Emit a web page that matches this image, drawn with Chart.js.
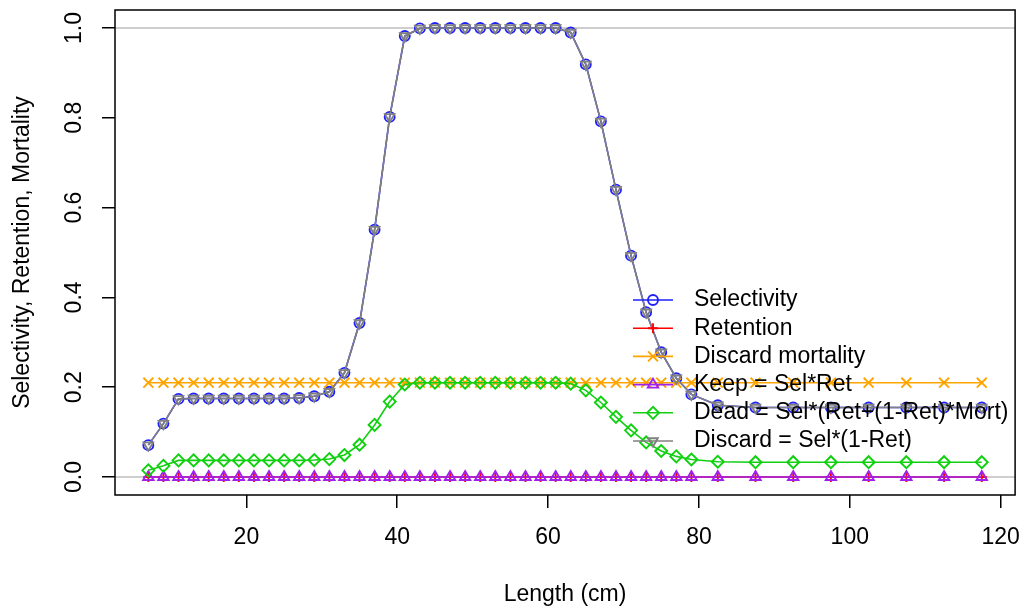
<!DOCTYPE html>
<html>
<head>
<meta charset="utf-8">
<script src="https://cdn.jsdelivr.net/npm/chart.js@4.4.1/dist/chart.umd.min.js"></script>
<style>
  html, body { margin: 0; padding: 0; background: #fff; }
  #wrap { width: 1024px; height: 609px; }
</style>
</head>
<body>
<div id="wrap"><canvas id="selChart" width="1024" height="609"></canvas></div>
<script>
// length classes (cm)
const lengths = [7, 9, 11, 13, 15, 17, 19, 21, 23, 25, 27, 29, 31, 33, 35, 37, 39, 41, 43,
  45, 47, 49, 51, 53, 55, 57, 59, 61, 63, 65, 67, 69, 71, 73, 75, 77, 79,
  82.5, 87.5, 92.5, 97.5, 102.5, 107.5, 112.5, 117.5];

const selectivity = [0.071, 0.119, 0.174, 0.175, 0.175, 0.175, 0.175, 0.175, 0.175, 0.175, 0.176, 0.180, 0.190, 0.232, 0.343, 0.551, 0.802, 0.982, 0.999,
  1, 1, 1, 1, 1, 1, 1, 1, 1, 0.990, 0.919, 0.792, 0.640, 0.493, 0.367, 0.278, 0.220, 0.184,
  0.160, 0.155, 0.155, 0.155, 0.155, 0.155, 0.155, 0.155];

const retention = [0, 0, 0, 0, 0, 0, 0, 0, 0, 0, 0, 0, 0, 0, 0, 0, 0, 0, 0,
  0, 0, 0, 0, 0, 0, 0, 0, 0, 0, 0, 0, 0, 0, 0, 0, 0, 0,
  0, 0, 0, 0, 0, 0, 0, 0];

const discardMortality = [0.21, 0.21, 0.21, 0.21, 0.21, 0.21, 0.21, 0.21, 0.21, 0.21, 0.21, 0.21, 0.21, 0.21, 0.21, 0.21, 0.21, 0.21, 0.21,
  0.21, 0.21, 0.21, 0.21, 0.21, 0.21, 0.21, 0.21, 0.21, 0.21, 0.21, 0.21, 0.21, 0.21, 0.21, 0.21, 0.21, 0.21,
  0.21, 0.21, 0.21, 0.21, 0.21, 0.21, 0.21, 0.21];

const keep = [0, 0, 0, 0, 0, 0, 0, 0, 0, 0, 0, 0, 0, 0, 0, 0, 0, 0, 0,
  0, 0, 0, 0, 0, 0, 0, 0, 0, 0, 0, 0, 0, 0, 0, 0, 0, 0,
  0, 0, 0, 0, 0, 0, 0, 0];

const dead = [0.015, 0.025, 0.037, 0.037, 0.037, 0.037, 0.037, 0.037, 0.037, 0.037, 0.037, 0.038, 0.040, 0.049, 0.072, 0.116, 0.168, 0.206, 0.210,
  0.210, 0.210, 0.210, 0.210, 0.210, 0.210, 0.210, 0.210, 0.210, 0.208, 0.193, 0.166, 0.134, 0.104, 0.077, 0.058, 0.046, 0.039,
  0.034, 0.033, 0.033, 0.033, 0.033, 0.033, 0.033, 0.033];

const discard = [0.071, 0.119, 0.174, 0.175, 0.175, 0.175, 0.175, 0.175, 0.175, 0.175, 0.176, 0.180, 0.190, 0.232, 0.343, 0.551, 0.802, 0.982, 0.999,
  1, 1, 1, 1, 1, 1, 1, 1, 1, 0.990, 0.919, 0.792, 0.640, 0.493, 0.367, 0.278, 0.220, 0.184,
  0.160, 0.155, 0.155, 0.155, 0.155, 0.155, 0.155, 0.155];

const seriesLabels = ['Selectivity', 'Retention', 'Discard mortality', 'Keep = Sel*Ret',
  'Dead = Sel*(Ret+(1-Ret)*Mort)', 'Discard = Sel*(1-Ret)'];

const xTicks = [20, 40, 60, 80, 100, 120];
const yTicks = [0, 0.2, 0.4, 0.6, 0.8, 1.0];
const yTickLabels = ['0.0', '0.2', '0.4', '0.6', '0.8', '1.0'];
const refLines = [0, 1];

const FONT = '"Liberation Sans", Arial, Helvetica, sans-serif';
const FONT_SIZE = 23;

const toPoints = vals => vals.map((v, i) => ({ x: lengths[i], y: v }));

function series(label, vals, color, style, radius, order, rotation) {
    return {
        label: label,
        data: toPoints(vals),
        borderColor: color,
        borderWidth: 1.6,
        pointStyle: style,
        pointRadius: radius,
        pointRotation: rotation || 0,
        pointBorderColor: color,
        pointBackgroundColor: 'rgba(0,0,0,0)',
        pointBorderWidth: 1.9,
        tension: 0,
        fill: false,
        order: order
    };
}

// R-style extras: reference lines, box, rotated y labels, legend
const rPlotPlugin = {
    id: 'rPlot',
    beforeDatasetsDraw(chart) {
        const { ctx, chartArea, scales } = chart;
        ctx.save();
        ctx.strokeStyle = '#bebebe';
        ctx.lineWidth = 1.5;
        refLines.forEach(v => {
            const y = scales.y.getPixelForValue(v);
            ctx.beginPath();
            ctx.moveTo(chartArea.left, y);
            ctx.lineTo(chartArea.right, y);
            ctx.stroke();
        });
        ctx.restore();
    },
    afterDatasetsDraw(chart) {
        const ctx = chart.ctx;
        const legendX = 633;
        const legendY = 300;
        const rowGap = 28.2;
        ctx.save();
        ctx.font = `${FONT_SIZE}px ${FONT}`;
        ctx.textBaseline = 'middle';
        ctx.textAlign = 'left';
        chart.data.datasets.forEach((ds, i) => {
            const y = legendY + i * rowGap;
            ctx.strokeStyle = ds.borderColor;
            ctx.lineWidth = ds.borderWidth;
            ctx.beginPath();
            ctx.moveTo(legendX, y);
            ctx.lineTo(legendX + 40, y);
            ctx.stroke();
            ctx.fillStyle = 'rgba(0,0,0,0)';
            ctx.lineWidth = ds.pointBorderWidth;
            Chart.helpers.drawPoint(ctx, {
                pointStyle: ds.pointStyle,
                rotation: ds.pointRotation,
                radius: ds.pointRadius,
                borderWidth: ds.pointBorderWidth
            }, legendX + 20, y);
            ctx.fillStyle = '#000';
            ctx.fillText(ds.label, legendX + 61, y);
        });
        ctx.restore();
    },
    afterDraw(chart) {
        const { ctx, chartArea, scales } = chart;
        ctx.save();
        ctx.strokeStyle = '#000';
        ctx.lineWidth = 1.5;
        ctx.strokeRect(chartArea.left, chartArea.top, chartArea.right - chartArea.left, chartArea.bottom - chartArea.top);

        ctx.fillStyle = '#000';
        ctx.font = `${FONT_SIZE}px ${FONT}`;
        ctx.textAlign = 'center';
        ctx.textBaseline = 'middle';
        yTicks.forEach((v, i) => {
            ctx.save();
            ctx.translate(75, scales.y.getPixelForValue(v));
            ctx.rotate(-Math.PI / 2);
            ctx.fillText(yTickLabels[i], 0, 0);
            ctx.restore();
        });
        ctx.restore();
    }
};

const tickGrid = {
    drawOnChartArea: false,
    drawTicks: true,
    tickLength: 13,
    color: '#000',
    lineWidth: 1.5
};

new Chart(document.getElementById('selChart'), {
    type: 'line',
    data: {
        datasets: [
            series(seriesLabels[0], selectivity, '#1f1fff', 'circle', 5, 6),
            series(seriesLabels[1], retention, '#ff0000', 'cross', 5, 5),
            series(seriesLabels[2], discardMortality, '#ffa500', 'crossRot', 7, 4),
            series(seriesLabels[3], keep, '#a020f0', 'triangle', 6, 3),
            series(seriesLabels[4], dead, '#10d010', 'rectRot', 6, 2),
            series(seriesLabels[5], discard, '#808080', 'triangle', 5.5, 1, 180)
        ]
    },
    options: {
        responsive: false,
        animation: false,
        layout: { padding: { left: 0, right: 6, top: 10, bottom: 0 } },
        plugins: {
            legend: { display: false },
            tooltip: { enabled: false }
        },
        scales: {
            x: {
                type: 'linear',
                min: 2.58,
                max: 121.92,
                afterBuildTicks: axis => { axis.ticks = xTicks.map(v => ({ value: v })); },
                afterFit: axis => {
                    axis.height = 114;
                    axis.paddingLeft = 0;
                    axis.paddingRight = 0;
                },
                grid: tickGrid,
                border: { display: false },
                ticks: {
                    color: '#000',
                    font: { family: FONT, size: FONT_SIZE },
                    padding: 16,
                    maxRotation: 0,
                    autoSkip: false
                },
                title: {
                    display: true,
                    text: 'Length (cm)',
                    color: '#000',
                    font: { family: FONT, size: FONT_SIZE },
                    padding: { top: 0, bottom: 1 }
                }
            },
            y: {
                type: 'linear',
                min: -0.04,
                max: 1.04,
                afterBuildTicks: axis => { axis.ticks = yTicks.map(v => ({ value: v })); },
                afterFit: axis => { axis.width = 115; },
                grid: tickGrid,
                border: { display: false },
                ticks: { display: false },
                title: {
                    display: true,
                    text: 'Selectivity, Retention, Mortality',
                    color: '#000',
                    font: { family: FONT, size: FONT_SIZE },
                    padding: { top: 9, bottom: 0 }
                }
            }
        }
    },
    plugins: [rPlotPlugin]
});
</script>
</body>
</html>
